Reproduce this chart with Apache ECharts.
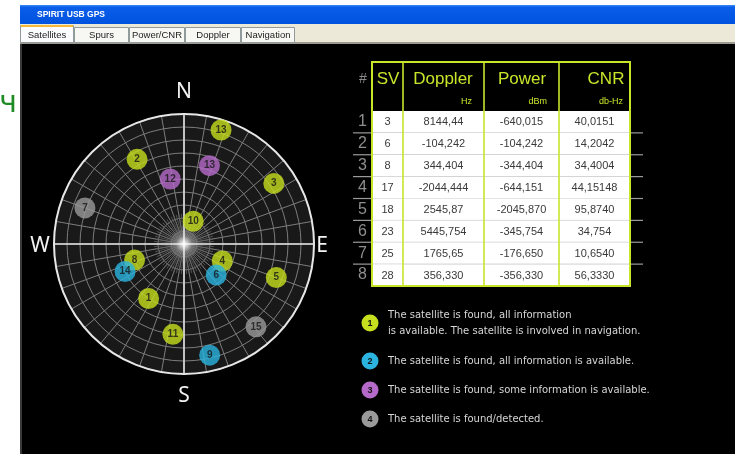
<!DOCTYPE html>
<html><head><meta charset="utf-8">
<script src="https://cdn.jsdelivr.net/npm/echarts@6/dist/echarts.min.js"></script>
<style>html,body{margin:0;padding:0;background:#fff}#c{width:735px;height:454px}</style>
</head><body><div id="c"></div>
<script>
// ---------- data ----------
const satIds       = [13, 2, 13, 12, 3, 7, 10, 8, 14, 4, 6, 5, 1, 11, 15, 9];
const satAzimuth   = [18, 331, 18, 348, 56, 290, 22, 252, 245, 114, 134, 110, 213, 187, 139, 167];
const satElevation = [7, 23, 33, 44, 15, 17, 73, 54, 45, 61, 59, 22, 45, 27, 14, 11];
const satStatus    = [1, 1, 3, 3, 1, 4, 1, 1, 2, 1, 2, 1, 1, 1, 4, 2];
const compassLabels = ['N', 'E', 'S', 'W'];
const rowNumbers   = ['1', '2', '3', '4', '5', '6', '7', '8'];
const tableHeaders = ['SV', 'Doppler', 'Power', 'CNR'];
const tableUnits   = ['', 'Hz', 'dBm', 'db-Hz'];
const svValues      = ['3', '6', '8', '17', '18', '23', '25', '28'];
const dopplerValues = ['8144,44', '-104,242', '344,404', '-2044,444', '2545,87', '5445,754', '1765,65', '356,330'];
const powerValues   = ['-640,015', '-104,242', '-344,404', '-644,151', '-2045,870', '-345,754', '-176,650', '-356,330'];
const cnrValues     = ['40,0151', '14,2042', '34,4004', '44,15148', '95,8740', '34,754', '10,6540', '56,3330'];
const legendLabels = [
  'The satellite is found, all information\nis available. The satellite is involved in navigation.',
  'The satellite is found, all information is available.',
  'The satellite is found, some information is available.',
  'The satellite is found/detected.'
];
const tabNames = ['Satellites', 'Spurs', 'Power/CNR', 'Doppler', 'Navigation'];
const windowTitle = 'SPIRIT USB GPS';

// ---------- layout / style ----------
const statusColors = {1: '#c6df1e', 2: '#2bb4df', 3: '#b56ac9', 4: '#9a9a9a'};
const LIME = '#c9e52a';
const GRID = '#7c7c7c';
const CX = 184, CY = 244, R = 130;
const colEdges = [0, 31, 112, 187, 258];
const tableCols = [svValues, dopplerValues, powerValues, cnrValues];
const tabX = [20, 74, 129, 185, 241, 295];
const compassPos = [[184, 92], [322, 246], [184, 396], [40, 246]];
const headerTitlePos = [[388, 79], [443, 79], [522, 79], [606, 79]];
const headerUnitRight = [0, 472, 547, 623];
const legendIconY = [323, 361, 390, 419];
const legendTextY = [323.5, 361, 390, 419];

const chart = echarts.init(document.getElementById('c'), null, {renderer: 'canvas'});

const graphics = [];
// window chrome
graphics.push({type: 'rect', shape: {x: 0, y: 0, width: 20, height: 454}, style: {fill: '#fff'}, z: 1});
graphics.push({type: 'rect', shape: {x: 0, y: 0, width: 735, height: 5}, style: {fill: '#fff'}, z: 1});
graphics.push({type: 'rect', shape: {x: 20, y: 5, width: 715, height: 19},
  style: {fill: new echarts.graphic.LinearGradient(0, 0, 0, 1, [
    {offset: 0, color: '#3a8cf5'}, {offset: 0.12, color: '#0a5de8'}, {offset: 1, color: '#0053e0'}])}, z: 1});
graphics.push({type: 'text', x: 37, y: 15, style: {text: windowTitle, fill: '#fff', font: 'bold 8.5px "Liberation Sans", Arial', verticalAlign: 'middle'}, z: 2});
graphics.push({type: 'rect', shape: {x: 20, y: 24, width: 715, height: 20}, style: {fill: '#ece9d8'}, z: 1});
graphics.push({type: 'rect', shape: {x: 20, y: 42, width: 715, height: 2}, style: {fill: '#9c9a90'}, z: 1});
tabNames.forEach((t, i) => {
  const sel = i === 0;
  const x0 = tabX[i], w = tabX[i + 1] - tabX[i] - 1;
  graphics.push({type: 'rect', shape: {x: x0 + 0.5, y: sel ? 25.5 : 27.5, width: w, height: sel ? 17 : 15},
    style: {fill: sel ? '#fcfcfe' : '#f7f7f4', stroke: '#919b9c', lineWidth: 1}, z: 2});
  if (sel) graphics.push({type: 'rect', shape: {x: x0 + 1, y: 25, width: w - 1, height: 2}, style: {fill: '#f7b83a'}, z: 3});
  graphics.push({type: 'text', x: x0 + w / 2 + 0.5, y: 35.5,
    style: {text: t, fill: '#222', font: '9.5px "Liberation Sans", Arial', align: 'center', verticalAlign: 'middle'}, z: 3});
});
graphics.push({type: 'rect', shape: {x: 20, y: 44, width: 2, height: 410}, style: {fill: '#3a3a3a'}, z: 1});
graphics.push({type: 'text', x: 8, y: 104, style: {text: 'ч', fill: '#1f8b24', font: '30px "DejaVu Sans"', align: 'center', verticalAlign: 'middle'}, z: 2});

// plot disc background
graphics.push({type: 'circle', shape: {cx: CX, cy: CY, r: R}, style: {fill: '#191919'}, z: -5, silent: true});

// compass labels
compassLabels.forEach((t, i) => {
  graphics.push({type: 'text', x: compassPos[i][0], y: compassPos[i][1],
    style: {text: t, fill: '#f2f2f2', font: '21px "Noto Sans"', align: 'center', verticalAlign: 'middle'}, z: 20});
});
// center glow
graphics.push({type: 'circle', shape: {cx: CX, cy: CY, r: 16},
  style: {fill: new echarts.graphic.RadialGradient(0.5, 0.5, 0.5, [
    {offset: 0, color: 'rgba(255,255,255,1)'}, {offset: 0.2, color: 'rgba(255,255,255,0.7)'},
    {offset: 0.5, color: 'rgba(255,255,255,0.18)'}, {offset: 1, color: 'rgba(255,255,255,0)'}])}, z: 30});

// table header
graphics.push({type: 'text', x: 363, y: 79, style: {text: '#', fill: '#8a8a8a', font: '14px "Liberation Sans"', align: 'center', verticalAlign: 'middle'}, z: 20});
tableHeaders.forEach((t, i) => {
  graphics.push({type: 'text', x: headerTitlePos[i][0], y: headerTitlePos[i][1],
    style: {text: t, fill: LIME, font: '17px "Liberation Sans"', align: 'center', verticalAlign: 'middle'}, z: 20});
  if (tableUnits[i]) graphics.push({type: 'text', x: headerUnitRight[i], y: 102,
    style: {text: tableUnits[i], fill: LIME, font: '9px "Liberation Sans"', align: 'right', verticalAlign: 'middle'}, z: 20});
});
// table lime borders
const tL = 372, tR = 630, tT = 62, tB = 286;
graphics.push({type: 'rect', shape: {x: tL, y: tT, width: tR - tL, height: tB - tT}, style: {fill: null, stroke: LIME, lineWidth: 2}, z: 40});
[403, 484, 559].forEach(x => graphics.push({type: 'line', shape: {x1: x, y1: tT, x2: x, y2: tB}, style: {stroke: LIME, lineWidth: 1.6}, z: 40}));

// legend
legendLabels.forEach((t, i) => {
  const s = i + 1;
  graphics.push({type: 'circle', shape: {cx: 370, cy: legendIconY[i], r: 8.5}, style: {fill: statusColors[s]}, z: 20});
  graphics.push({type: 'text', x: 370, y: legendIconY[i] + 0.5, style: {text: String(s), fill: '#111', font: 'bold 9px "Liberation Sans"', align: 'center', verticalAlign: 'middle'}, z: 21});
  graphics.push({type: 'text', x: 388, y: legendTextY[i], style: {text: t, fill: '#d6d6d6', font: '10px "DejaVu Sans"', lineHeight: 15.5, verticalAlign: 'middle'}, z: 20});
});

const tableData = [];
rowNumbers.forEach((r, ri) => tableHeaders.forEach((h, ci) => tableData.push([ci, ri])));

const option = {
  backgroundColor: '#000',
  animation: false,
  polar: [
    {center: [CX, CY], radius: R},
    {center: [CX, CY], radius: R},
    {center: [CX, CY], radius: 30}
  ],
  angleAxis: [
    {polarIndex: 0, type: 'value', min: 0, max: 360, interval: 10, startAngle: 90, clockwise: true,
      axisLine: {lineStyle: {color: '#e6e6e6', width: 2}}, axisTick: {show: false}, axisLabel: {show: false},
      splitLine: {lineStyle: {color: GRID, width: 1}}, z: 3},
    {polarIndex: 1, type: 'value', min: 0, max: 360, interval: 90, startAngle: 90, clockwise: true,
      axisLine: {show: false}, axisTick: {show: false}, axisLabel: {show: false},
      splitLine: {lineStyle: {color: '#e2e2e2', width: 1.6}}, z: 4},
    {polarIndex: 2, type: 'value', min: 0, max: 360, interval: 5, startAngle: 95, clockwise: true,
      axisLine: {show: false}, axisTick: {show: false}, axisLabel: {show: false},
      splitLine: {lineStyle: {color: '#5e5e5e', width: 0.8}}, z: 3}
  ],
  radiusAxis: [
    {polarIndex: 0, type: 'value', min: 0, max: 90, interval: 9,
      axisLine: {show: false}, axisTick: {show: false}, axisLabel: {show: false},
      splitLine: {show: true, lineStyle: {color: GRID, width: 1}}, z: 3},
    {polarIndex: 1, type: 'value', min: 0, max: 90, axisLine: {show: false}, axisTick: {show: false},
      axisLabel: {show: false}, splitLine: {show: false}},
    {polarIndex: 2, type: 'value', min: 0, max: 90, axisLine: {show: false}, axisTick: {show: false},
      axisLabel: {show: false}, splitLine: {show: false}}
  ],
  grid: [{left: tL, top: 111, width: tR - tL, height: tB - 111}],
  xAxis: [{gridIndex: 0, type: 'value', min: 0, max: colEdges[colEdges.length - 1], show: false}],
  yAxis: [{gridIndex: 0, type: 'category', data: rowNumbers, inverse: true,
    axisLine: {show: false}, axisTick: {show: false},
    axisLabel: {interval: 0, color: '#8e8e8e', fontSize: 16, fontFamily: 'Liberation Sans', margin: 5}}],
  graphic: {elements: graphics},
  series: [
    {
      type: 'scatter', coordinateSystem: 'polar', polarIndex: 0, z: 10,
      symbolSize: 21,
      // radius = zenith distance (90 - elevation), so the zenith sits at the centre
      data: satIds.map((id, i) => ({
        value: [90 - satElevation[i], satAzimuth[i]],
        itemStyle: {color: statusColors[satStatus[i]]},
        label: {formatter: String(id)}
      })),
      label: {show: true, position: 'inside', color: '#151515', fontSize: 10, fontWeight: 'bold', fontFamily: 'Liberation Sans'}
    },
    {
      type: 'custom', xAxisIndex: 0, yAxisIndex: 0, z: 5, clip: false,
      data: tableData,
      renderItem: function (params, api) {
        const c = api.value(0), r = api.value(1);
        const p0 = api.coord([colEdges[c], r]);
        const p1 = api.coord([colEdges[c + 1], r]);
        const h = api.size([0, 1])[1];
        const y0 = p0[1] - h / 2;
        const children = [
          {type: 'rect', shape: {x: p0[0], y: y0, width: p1[0] - p0[0], height: h}, style: {fill: '#ffffff'}},
          {type: 'text', x: (p0[0] + p1[0]) / 2, y: p0[1] + 0.5,
            style: {text: tableCols[c][r], fill: '#3a3a3a', font: '11px "Liberation Sans"', align: 'center', verticalAlign: 'middle'}}
        ];
        if (r < rowNumbers.length - 1) {
          children.push({type: 'line', shape: {x1: p0[0], y1: y0 + h, x2: p1[0], y2: y0 + h}, style: {stroke: '#c8c8c8', lineWidth: 1}});
          if (c === 0) children.push({type: 'line', shape: {x1: p0[0] - 19, y1: y0 + h, x2: p0[0], y2: y0 + h}, style: {stroke: '#9a9a9a', lineWidth: 1.2}});
          if (c === tableCols.length - 1) children.push({type: 'line', shape: {x1: p1[0], y1: y0 + h, x2: p1[0] + 13, y2: y0 + h}, style: {stroke: '#9a9a9a', lineWidth: 1.2}});
        }
        return {type: 'group', children: children};
      }
    }
  ]
};
chart.setOption(option);
</script>
</body></html>
